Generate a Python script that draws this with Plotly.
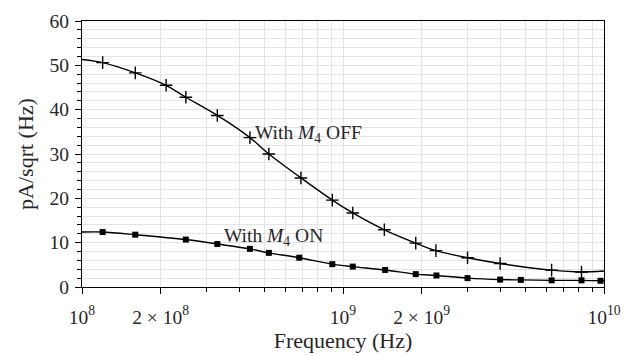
import plotly.graph_objects as go

# --- data ---
f_off = [1.2e8, 1.6e8, 2.1e8, 2.5e8, 3.3e8, 4.4e8, 5.2e8, 6.9e8, 9.1e8, 1.09e9,
         1.44e9, 1.9e9, 2.27e9, 3.0e9, 4.0e9, 6.3e9, 8.2e9]
noise_off = [50.6, 48.3, 45.5, 42.8, 38.7, 33.7, 30.0, 24.6, 19.6, 16.7,
             12.9, 9.9, 8.2, 6.6, 5.3, 3.8, 3.4]
f_on = [1.2e8, 1.6e8, 2.5e8, 3.3e8, 4.4e8, 5.2e8, 6.8e8, 9.1e8, 1.09e9, 1.45e9,
        1.9e9, 2.28e9, 3.0e9, 4.0e9, 4.8e9, 6.3e9, 8.2e9, 9.7e9]
noise_on = [12.4, 11.8, 10.7, 9.7, 8.6, 7.7, 6.6, 5.15, 4.6, 3.85,
            2.9, 2.6, 2.0, 1.67, 1.6, 1.5, 1.5, 1.4]
# curve ends at the axis limits
curve_f_off = [1e8] + f_off + [1e10]
curve_off = [51.3] + noise_off + [3.6]
curve_f_on = [1e8] + f_on + [1e10]
curve_on = [12.4] + noise_on + [1.4]

x_tickvals = [1e8, 2e8, 1e9, 2e9, 1e10]
x_ticktext = ["10<sup>8</sup>", "2 × 10<sup>8</sup>", "10<sup>9</sup>",
              "2 × 10<sup>9</sup>", "10<sup>10</sup>"]
x_minor = [k * 10 ** n for n in (8, 9) for k in range(2, 10)]

FONT = "Liberation Serif"
TXT = "#262626"
GRID = "#e3e3e3"

fig = go.Figure()
for cf, cy in ((curve_f_off, curve_off), (curve_f_on, curve_on)):
    fig.add_trace(go.Scatter(x=cf, y=cy, mode="lines", line=dict(color="black", width=1.4, shape="spline", smoothing=0.8),
                             hoverinfo="skip", showlegend=False))
fig.add_trace(go.Scatter(x=f_off, y=noise_off, mode="markers",
                         marker=dict(symbol="cross-thin", size=9, line=dict(color="black", width=1.4)),
                         showlegend=False))
fig.add_trace(go.Scatter(x=f_on, y=noise_on, mode="markers",
                         marker=dict(symbol="square", size=6, color="black"),
                         showlegend=False))

fig.add_annotation(x=8.655, y=34.6, xref="x", yref="y", text="With <i>M</i><sub>4</sub> OFF",
                   showarrow=False, xanchor="left", yanchor="middle", font=dict(size=19.5, color=TXT, family=FONT))
fig.add_annotation(x=8.536, y=11.3, xref="x", yref="y", text="With <i>M</i><sub>4</sub> ON",
                   showarrow=False, xanchor="left", yanchor="middle", font=dict(size=19.5, color=TXT, family=FONT))

fig.update_layout(
    width=639, height=356,
    margin=dict(l=82, r=35, t=11, b=69),
    paper_bgcolor="white", plot_bgcolor="white",
    font=dict(family=FONT, size=18, color=TXT),
    xaxis=dict(type="log", range=[8, 10], tickvals=x_tickvals, ticktext=x_ticktext,
               tickfont=dict(size=19.5),
               ticks="outside", ticklen=6, tickcolor="black", showline=True, linecolor="black",
               linewidth=1.3, mirror=True, showgrid=True, gridcolor=GRID, gridwidth=1,
               ticklabelstandoff=6,
               minor=dict(tickvals=x_minor, ticks="outside", ticklen=4, tickcolor="black",
                          showgrid=True, gridcolor=GRID),
               title=dict(text="Frequency (Hz)", standoff=0), zeroline=False),
    yaxis=dict(range=[0, 60], dtick=10, ticks="outside", ticklen=6, tickcolor="black",
               tickfont=dict(size=19.5), ticklabelstandoff=2,
               showline=True, linecolor="black", linewidth=1.3, mirror=True,
               showgrid=True, gridcolor=GRID,
               minor=dict(dtick=2, ticks="outside", ticklen=4, tickcolor="black",
                          showgrid=True, gridcolor=GRID),
               title=dict(text="pA/sqrt (Hz)", standoff=9), zeroline=False),
)

fig.write_html("out.html")
